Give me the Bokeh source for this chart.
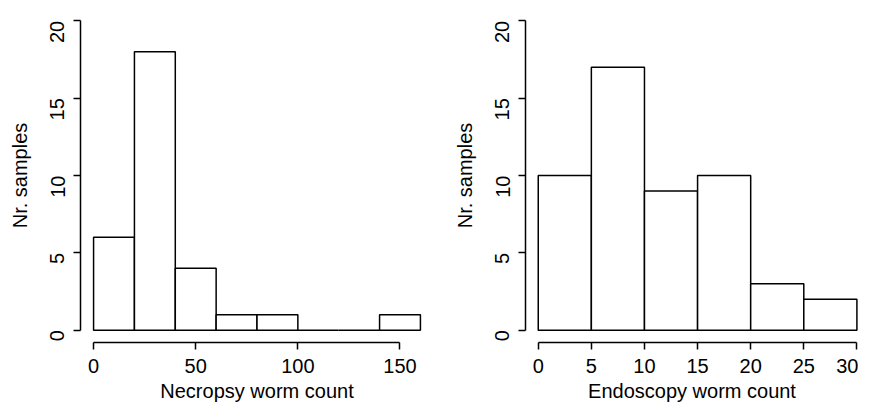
import math
from bokeh.plotting import figure
from bokeh.layouts import row
from bokeh.models import FixedTicker, Range1d
from bokeh.embed import file_html
from bokeh.resources import INLINE

# ---- data ----
necropsy_edges = [0, 20, 40, 60, 80, 100, 120, 140, 160]
necropsy_counts = [6, 18, 4, 1, 1, 0, 0, 1]
necropsy_xticks = [0, 50, 100, 150]

endoscopy_edges = [0, 5, 10, 15, 20, 25, 30]
endoscopy_counts = [10, 17, 9, 10, 3, 2]
endoscopy_xticks = [0, 5, 10, 15, 20, 25, 30]

y_ticks = [0, 5, 10, 15, 20]
y_title = "Nr. samples"
necropsy_title = "Necropsy worm count"
endoscopy_title = "Endoscopy worm count"

FONT = "Liberation Sans"
FS = "20px"


def hist(edges, counts, xticks, xtitle, x_range, frame_w, border_left, border_right):
    p = figure(output_backend="svg", toolbar_location=None,
               frame_width=frame_w, frame_height=334,
               x_range=Range1d(*x_range), y_range=Range1d(-0.8, 20.8),
               min_border_left=border_left, min_border_right=border_right,
               min_border_top=8, min_border_bottom=53)
    p.outline_line_color = None
    p.xgrid.visible = False
    p.ygrid.visible = False
    p.background_fill_color = "white"
    p.border_fill_color = "white"

    p.quad(left=edges[:-1], right=edges[1:], bottom=0, top=counts,
           fill_color="white", line_color="black", line_width=1.5)

    for ax, ticks in ((p.xaxis[0], xticks), (p.yaxis[0], y_ticks)):
        ax.ticker = FixedTicker(ticks=ticks)
        ax.bounds = (ticks[0], ticks[-1])
        ax.minor_tick_line_color = None
        ax.major_tick_out = 7
        ax.major_tick_in = 0
        ax.axis_line_width = 1.5
        ax.major_tick_line_width = 1.5
        ax.axis_line_color = "black"
        ax.major_tick_line_color = "black"
        ax.major_label_text_font = FONT
        ax.major_label_text_font_size = FS
        ax.major_label_text_color = "black"
        ax.axis_label_text_font = FONT
        ax.axis_label_text_font_size = FS
        ax.axis_label_text_font_style = "normal"
        ax.axis_label_text_color = "black"

    p.xaxis.axis_label = xtitle
    p.xaxis.major_label_standoff = 9
    p.xaxis.axis_label_standoff = 4
    p.yaxis.axis_label = y_title
    p.yaxis.major_label_orientation = math.pi / 2
    p.yaxis.major_label_standoff = 16
    p.yaxis.axis_label_standoff = 10
    return p


p1 = hist(necropsy_edges, necropsy_counts, necropsy_xticks, necropsy_title,
          (-6.4, 166.4), 353, 80, 4)
p2 = hist(endoscopy_edges, endoscopy_counts, endoscopy_xticks, endoscopy_title,
          (-1.2, 30.15), 333, 88, 0)

layout = row(p1, p2, spacing=0)
open("out.html", "w").write(file_html(layout, INLINE))
